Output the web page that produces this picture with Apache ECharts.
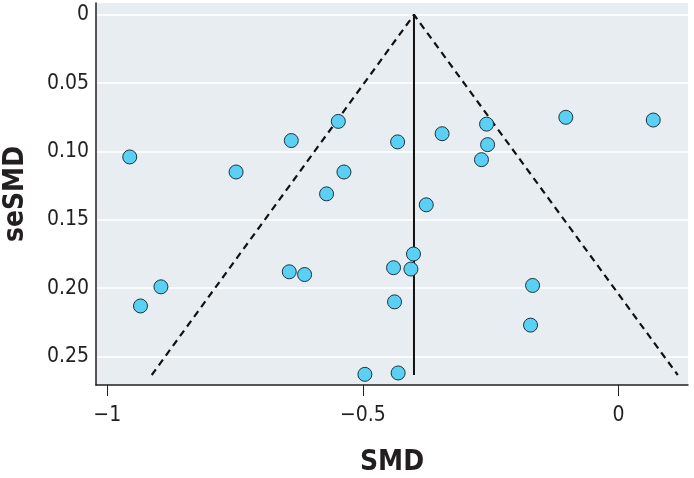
<!DOCTYPE html>
<html>
<head>
<meta charset="utf-8">
<script src="https://cdn.jsdelivr.net/npm/echarts@6/dist/echarts.min.js"></script>
<style>
html,body{margin:0;padding:0;background:#fff;}
#chart{width:694px;height:478px;}
</style>
</head>
<body>
<div id="chart"></div>
<script>
// Study effects (SMD) and their standard errors (seSMD)
const smd = [-0.956, -0.748, -0.640, -0.548, -0.537, -0.571, -0.432, -0.345, -0.258, -0.256, -0.268, -0.103, 0.068, -0.376, -0.895, -0.935, -0.644, -0.614, -0.496, -0.401, -0.440, -0.406, -0.438, -0.168, -0.172, -0.431];
const seSMD = [0.104, 0.115, 0.092, 0.078, 0.115, 0.131, 0.093, 0.087, 0.080, 0.095, 0.106, 0.075, 0.077, 0.139, 0.199, 0.213, 0.188, 0.190, 0.263, 0.175, 0.185, 0.186, 0.210, 0.198, 0.227, 0.262];
// Pooled estimate line and funnel (pseudo 95% limits)
const pooledX = [-0.400, -0.400];
const pooledY = [0, 0.2635];
const funnelX = [-0.913, -0.400, 0.116];
const funnelY = [0.2635, 0, 0.2635];
// Axis ticks
const xTickValues = [-1, -0.5, 0];
const xTickLabels = ['\u22121', '\u22120.5', '0'];
const yTickValues = [0, 0.05, 0.10, 0.15, 0.20, 0.25];
const yTickLabels = ['0', '0.05', '0.10', '0.15', '0.20', '0.25'];

const FONT = "'Liberation Sans Narrow','DejaVu Sans Condensed','Arial Narrow',sans-serif";
const TXT = '#231f20';

const zip = (a, b) => a.map((v, i) => [v, b[i]]);

const chart = echarts.init(document.getElementById('chart'), null, {renderer: 'canvas'});
chart.setOption({
  animation: false,
  grid: {left: 96, right: 6, top: 3, bottom: 93, show: true, backgroundColor: '#E8EDF2', borderWidth: 0,
    containLabel: false, outerBoundsMode: 'none'},
  xAxis: {
    type: 'value', min: -1.022, max: 0.136,
    name: 'SMD', nameLocation: 'middle', nameGap: 64,
    nameTextStyle: {fontFamily: FONT, fontWeight: 'bold', fontSize: 28, color: TXT},
    axisLine: {show: true, onZero: false, lineStyle: {color: TXT, width: 1.5}},
    axisTick: {show: true, length: 11, customValues: xTickValues, lineStyle: {color: TXT, width: 1}},
    axisLabel: {customValues: xTickValues, margin: 20, fontFamily: FONT, fontSize: 21, color: TXT,
      formatter: v => xTickLabels[xTickValues.findIndex(t => Math.abs(t - v) < 1e-9)]},
    splitLine: {show: false}
  },
  yAxis: {
    type: 'value', inverse: true, min: -0.0086, max: 0.2708,
    name: 'seSMD', nameLocation: 'middle', nameGap: 66, nameRotate: 90,
    nameTextStyle: {fontFamily: FONT, fontWeight: 'bold', fontSize: 28, color: TXT},
    axisLine: {show: true, onZero: false, lineStyle: {color: TXT, width: 1.5}},
    axisTick: {show: false, customValues: yTickValues},
    axisLabel: {customValues: yTickValues, margin: 7, fontFamily: FONT, fontSize: 21, color: TXT,
      formatter: v => yTickLabels[yTickValues.findIndex(t => Math.abs(t - v) < 1e-9)]},
    splitLine: {show: true, lineStyle: {color: '#ffffff', width: 1.5}}
  },
  series: [
    {
      type: 'line', data: zip(funnelX, funnelY), symbol: 'none', silent: true,
      lineStyle: {color: '#111', width: 2.2, type: [7, 5]}, z: 2
    },
    {
      type: 'line', data: zip(pooledX, pooledY), symbol: 'none', silent: true,
      lineStyle: {color: '#111', width: 2}, z: 2
    },
    {
      type: 'scatter', data: zip(smd, seSMD), symbol: 'circle', symbolSize: 14,
      itemStyle: {color: '#5BD0F5', borderColor: '#1b3440', borderWidth: 1, opacity: 1}, z: 3
    }
  ]
});
</script>
</body>
</html>
